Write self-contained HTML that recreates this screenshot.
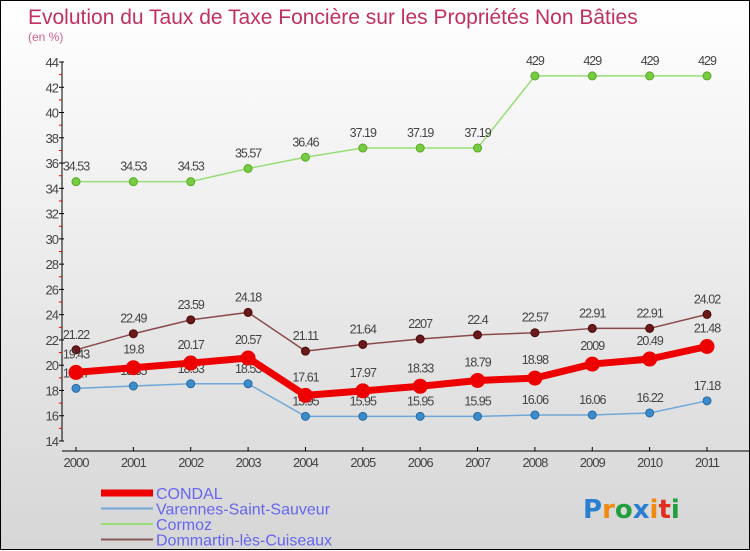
<!DOCTYPE html>
<html><head><meta charset="utf-8">
<style>
html,body{margin:0;padding:0}
body{width:750px;height:550px;overflow:hidden}
#wrap{position:relative;width:748px;height:548px;border:1px solid #000;background:linear-gradient(#ffffff,#d6d6d6);font-family:"Liberation Sans",sans-serif}
svg{position:absolute;left:0;top:0}
</style></head><body>
<div id="wrap">
<svg id="chart" width="750" height="550"></svg>
</div>
<script>
const years=["2000","2001","2002","2003","2004","2005","2006","2007","2008","2009","2010","2011"];
const yTicks=[14,16,18,20,22,24,26,28,30,32,34,36,38,40,42,44];
const condal=[19.43,19.8,20.17,20.57,17.61,17.97,18.33,18.79,18.98,20.09,20.49,21.48];
const condalLabels=["19.43","19.8","20.17","20.57","17.61","17.97","18.33","18.79","18.98","2009","20.49","21.48"];
const varennes=[18.17,18.35,18.53,18.53,15.95,15.95,15.95,15.95,16.06,16.06,16.22,17.18];
const varennesLabels=["18.17","18.35","18.53","18.53","15.95","15.95","15.95","15.95","16.06","16.06","16.22","17.18"];
const cormoz=[34.53,34.53,34.53,35.57,36.46,37.19,37.19,37.19,42.9,42.9,42.9,42.9];
const cormozLabels=["34.53","34.53","34.53","35.57","36.46","37.19","37.19","37.19","429","429","429","429"];
const dommartin=[21.22,22.49,23.59,24.18,21.11,21.64,22.07,22.4,22.57,22.91,22.91,24.02];
const dommartinLabels=["21.22","22.49","23.59","24.18","21.11","21.64","2207","22.4","22.57","22.91","22.91","24.02"];

const NS="http://www.w3.org/2000/svg";
const svg=document.getElementById('chart');
const x0=75,x1=706,yTop=61,yBot=440,vMin=14,vMax=44;
const xs=i=>x0+(x1-x0)*i/(years.length-1);
const ys=v=>yBot-(v-vMin)*(yBot-yTop)/(vMax-vMin);
function mk(tag,attrs,parent){const e=document.createElementNS(NS,tag);for(const k in attrs)e.setAttribute(k,attrs[k]);(parent||svg).appendChild(e);return e;}

// title
let t=mk('text',{x:27,y:23,'font-size':21,fill:'#c03060'});t.textContent='Evolution du Taux de Taxe Foncière sur les Propriétés Non Bâties';

t=mk('text',{x:27,y:40,'font-size':12,fill:'#d06090'});t.textContent='(en %)';


// axes
const yAxis=mk('g',{});

mk('line',{x1:61,y1:yTop,x2:61,y2:yBot,stroke:'#000','stroke-width':1},yAxis);
yTicks.forEach((v,i)=>{
  const y=ys(v);
  mk('line',{x1:58,y1:y,x2:63,y2:y,stroke:'#000'},yAxis);
  if(i<yTicks.length-1){const ym=ys(v+1);mk('line',{x1:58,y1:ym,x2:61,y2:ym,stroke:'#e00'},yAxis);}
  const tx=mk('text',{x:57,y:y+5,'font-size':13,fill:'#444','text-anchor':'end','letter-spacing':'-1'},yAxis);tx.textContent=v;
  
});
const xAxis=mk('g',{});

mk('line',{x1:61,y1:450,x2:748,y2:450,stroke:'#000'},xAxis);
years.forEach((yr,i)=>{
  const x=xs(i);
  mk('line',{x1:x,y1:446,x2:x,y2:450,stroke:'#000'},xAxis);
  const tx=mk('text',{x:x,y:466,'font-size':13,fill:'#444','text-anchor':'middle','letter-spacing':'-1'},xAxis);tx.textContent=yr;
  
});

function series(name,vals,labels,color,fillc,w,r,dark){
  const g=mk('g',{});
  
  mk('polyline',{points:vals.map((v,i)=>xs(i)+','+ys(v)).join(' '),fill:'none',stroke:color,'stroke-width':w,'stroke-linejoin':'round'},g);
  vals.forEach((v,i)=>{
    const c=mk('circle',{cx:xs(i),cy:ys(v),r:r,fill:fillc,stroke:dark,'stroke-width':1},g);
    
    const tx=mk('text',{x:xs(i),y:ys(v)-(r+7),'font-size':12.5,fill:'#444','text-anchor':'middle','letter-spacing':'-1'},g);tx.textContent=labels[i];
    
  });
}
series('cormoz',cormoz,cormozLabels,'#99dd77','#77cc44',1.5,4,'#55aa22');
series('dommartin',dommartin,dommartinLabels,'#8a4a4a','#6a1a1a',1.5,4,'#4a0a0a');
series('varennes',varennes,varennesLabels,'#6fa8d8','#3a8ccc',1.5,4,'#2a6aa0');
series('condal',condal,condalLabels,'#ee0000','#ee0000',7,7,'#ee0000');

// legend
const leg=[['CONDAL','#ee0000',7],['Varennes-Saint-Sauveur','#6fa8d8',2],['Cormoz','#99dd77',2],['Dommartin-lès-Cuiseaux','#8a5a5a',2]];
leg.forEach((l,i)=>{
  const g=mk('g',{});
  
  const y=492+i*15.5;
  mk('line',{x1:100,y1:y,x2:152,y2:y,stroke:l[1],'stroke-width':l[2]},g);
  const tx=mk('text',{x:155,y:y+6,'font-size':16,fill:'#6666ee'},g);tx.textContent=l[0];
});

// logo
const lg=mk('text',{x:582,y:517,'font-size':26,'font-weight':'bold','font-family':'"DejaVu Sans",sans-serif'});

[['P','#2a7fd0'],['r','#f08a10'],['o','#22a040'],['x','#2a7fd0'],['i','#f08a10'],['t','#e03020'],['i','#22a040']].forEach(p=>{const s=mk('tspan',{fill:p[1]},lg);s.textContent=p[0];});
</script>
</body></html>
